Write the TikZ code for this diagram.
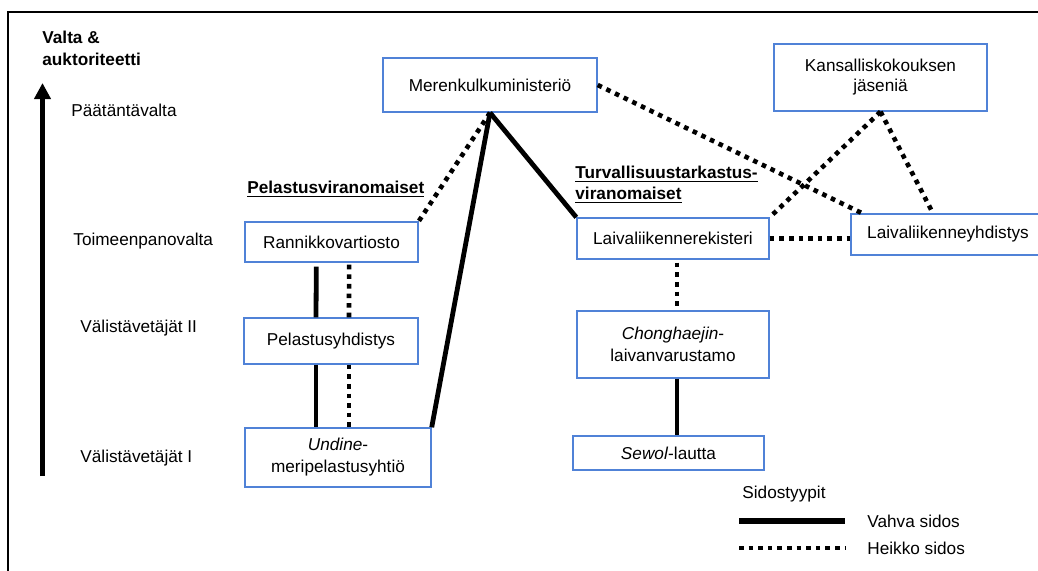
\documentclass[tikz,border=0pt]{standalone}
\usepackage{fontspec}
\setmainfont{Liberation Sans}
\usetikzlibrary{arrows.meta}
\definecolor{boxblue}{RGB}{80,130,215}
\begin{document}
\begin{tikzpicture}[x=0.5pt,y=-0.5pt,
  font=\fontsize{8.6}{11}\selectfont,
  box/.style={draw=boxblue, line width=0.7pt, align=center, inner sep=0pt},
  lbl/.style={inner sep=0pt, anchor=base west},
  strong/.style={line width=2.4pt},
  weak/.style={line width=2.3pt, dash pattern=on 2.3pt off 2.5pt},
  frame/.style={line width=0.7pt}]
\useasboundingbox (0,0) rectangle (1038,570);
\clip (0,0) rectangle (1038,570);

% frame
\coordinate (fa) at (8,572);
\coordinate (fb) at (8,12);
\coordinate (fc) at (1040,12);
\draw[frame] (fa) -- (fb) -- (fc);

% axis
\coordinate (axb) at (42.5,476);
\coordinate (axt) at (42.5,83);
\draw[line width=2.5pt, -{Triangle[width=8pt,length=8pt]}] (axb) -- (axt);
\node[inner sep=0pt, anchor=north west, align=left, font=\fontsize{8.6}{11}\selectfont\bfseries] (valta) at (42,31) {Valta \&\\auktoriteetti};

\node[lbl] (l1) at (71,116) {Päätäntävalta};
\node[lbl] (l2) at (73,245) {Toimeenpanovalta};
\node[lbl] (l3) at (80,332) {Välistävetäjät II};
\node[lbl] (l4) at (80,462) {Välistävetäjät I};

\node[lbl, font=\fontsize{8.6}{11}\selectfont\bfseries] (pelv) at (247,193) {\underline{Pelastusviranomaiset}};
\node[inner sep=0pt, anchor=north west, align=left, font=\fontsize{8.6}{10.5}\selectfont\bfseries] (turv) at (575,166) {\underline{Turvallisuustarkastus-}\\\underline{viranomaiset}};

% boxes
\node[box, minimum width=107pt, minimum height=27pt] (mer) at (490,85) {Merenkulkuministeriö};
\node[box, minimum width=106.5pt, minimum height=33.5pt, font=\fontsize{8.6}{10}\selectfont] (kan) at (880.5,77.5) {Kansalliskokouksen\\jäseniä};
\node[box, minimum width=86.5pt, minimum height=20pt] (ran) at (331.5,242) {Rannikkovartiosto};
\node[box, minimum width=87pt, minimum height=23pt] (pel) at (331,341) {Pelastusyhdistys};
\node[box, minimum width=93pt, minimum height=29.5pt] (und) at (338,457.5) {\textit{Undine}-\\meripelastusyhtiö};
\node[box, minimum width=96pt, minimum height=20.5pt] (lrek) at (673,238.5) {Laivaliikennerekisteri};
\node[box, minimum width=97pt, minimum height=20.5pt] (lyh) at (948,234.5) {Laivaliikenneyhdistys};
\node[box, minimum width=96pt, minimum height=33.5pt] (cho) at (673,344.5) {\textit{Chonghaejin}-\\laivanvarustamo};
\node[box, minimum width=95.5pt, minimum height=17pt] (sew) at (668.5,453) {\textit{Sewol}-lautta};

% connectors
\draw[weak] (mer.south) -- (ran.north east);
\draw[strong] (mer.south) -- (und.north east);
\draw[strong] (mer.south) -- (lrek.north west);
\draw[weak] (mer.east) -- ([xshift=6pt]lyh.north west);
\draw[weak] (kan.south) -- (lrek.north east);
\draw[weak] (kan.south) -- ([xshift=-7.5pt]lyh.north);
\draw[weak] (lrek.east) -- (lrek.east -| lyh.west);

\draw[strong] ([xshift=-7.6pt,yshift=-2pt]ran.south) -- ([xshift=-7.5pt]pel.north);
\draw[weak] ([xshift=8.8pt,yshift=-1pt]ran.south) -- ([xshift=9pt]pel.north);
\draw[strong] ([xshift=-7.5pt]pel.south) -- ([xshift=-11pt]und.north);
\draw[weak] ([xshift=9pt]pel.south) -- ([xshift=5.5pt]und.north);
\draw[weak] ([xshift=2pt,yshift=-1.5pt]lrek.south) -- ([xshift=2pt,yshift=1pt]cho.north);
\draw[strong] ([xshift=2pt]cho.south) -- ([xshift=4.25pt]sew.north);

% legend
\node[lbl] (sid) at (742,498) {Sidostyypit};
\coordinate (s1a) at (739,521);
\coordinate (s1b) at (845,521);
\coordinate (s2a) at (739,548);
\coordinate (s2b) at (845,548);
\draw[line width=2.6pt] (s1a) -- (s1b);
\draw[weak] (s2a) -- (s2b);
\node[lbl] (vah) at (867,527) {Vahva sidos};
\node[lbl] (hei) at (867,554) {Heikko sidos};
\end{tikzpicture}
\end{document}
